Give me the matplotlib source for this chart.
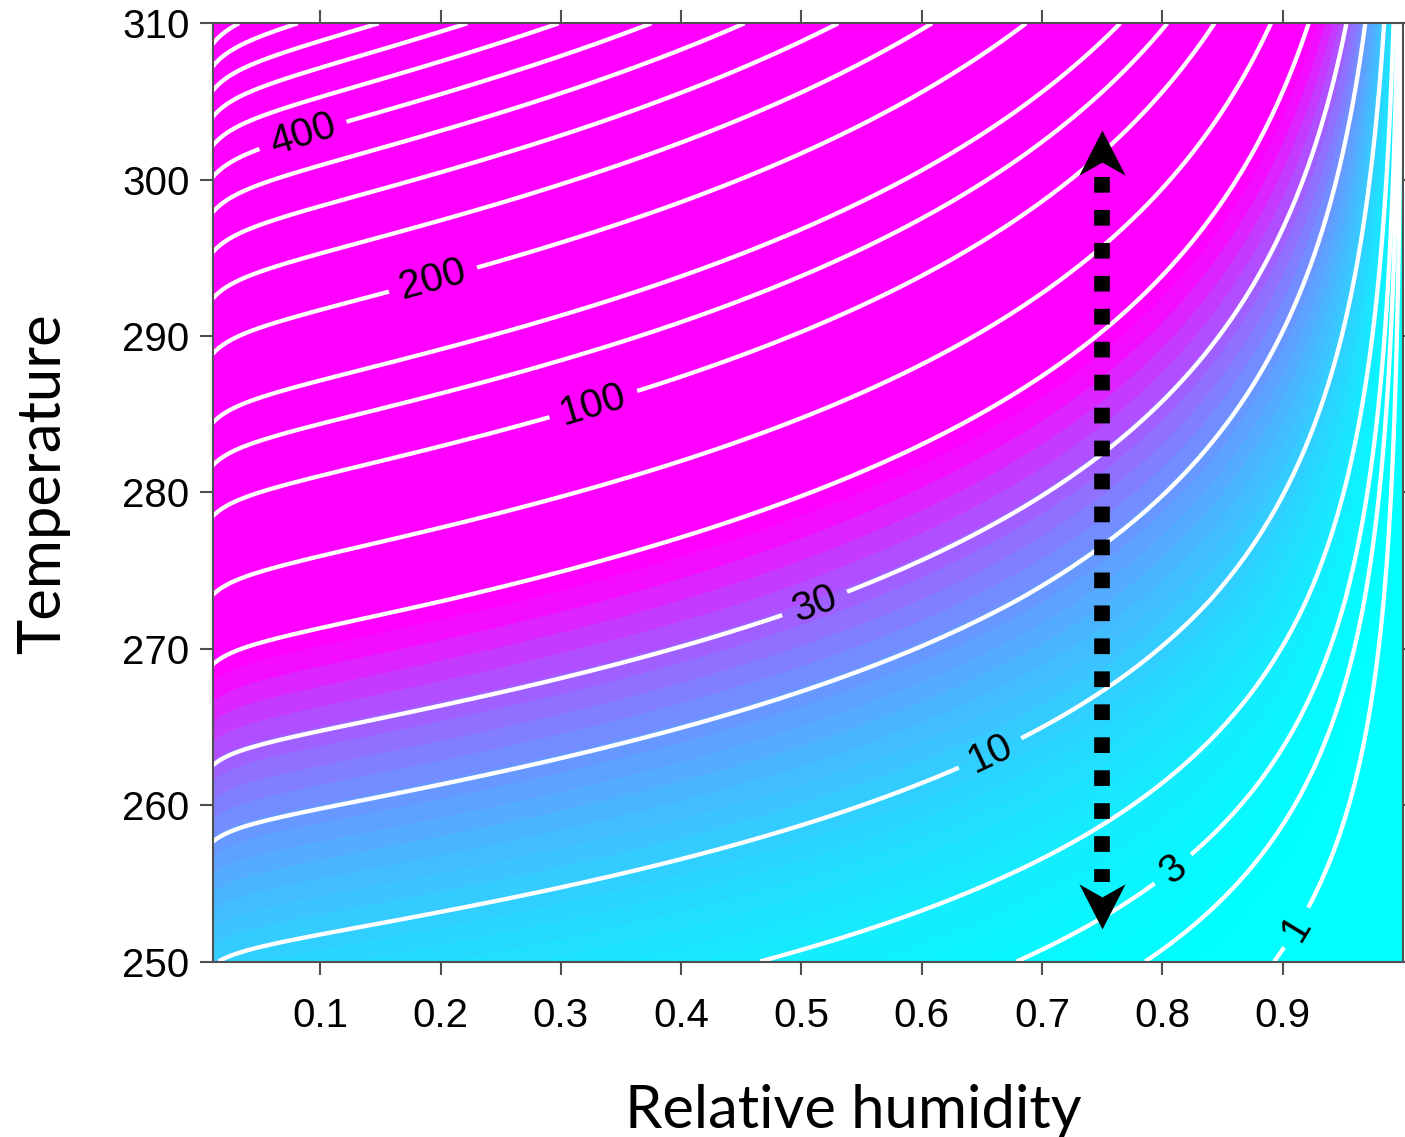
import numpy as np
import matplotlib
matplotlib.use("Agg")
import matplotlib.pyplot as plt
from matplotlib.colors import Normalize
from matplotlib.path import Path

# axis ranges and ticks
rh_range = [0.0104, 1.0]
temp_range = [250, 310]
x_ticks = [0.1, 0.2, 0.3, 0.4, 0.5, 0.6, 0.7, 0.8, 0.9]
y_ticks = [250, 260, 270, 280, 290, 300, 310]

# white contour lines and the ones that carry a label
line_levels = [1, 2, 3, 5, 10, 20, 30, 50, 70, 100, 125, 150, 200, 250, 300,
               350, 400, 450, 500, 550, 600, 650]
label_levels = [1, 3, 10, 30, 100, 200, 400]
label_rh = [0.915, 0.812, 0.66, 0.51, 0.326, 0.193, 0.085]
label_temp = [252.0, 255.6, 262.8, 273.1, 285.9, 293.8, 303.0]

# colour shading: geometric bands, coloured linearly between low and high
fill_low, fill_high, n_fill = 1.5, 46.0, 35

# dotted double arrow
arrow_rh = 0.75
arrow_top = 303.2
arrow_bottom = 252.1
head_len = 3.0  # K

# field: saturation deficit style quantity, es(T) * (1 - RH)
rh = np.linspace(rh_range[0], rh_range[1], 700)
temp = np.linspace(temp_range[0], temp_range[1], 700)
RH, T = np.meshgrid(rh, temp)
tc = T - 273.15
es_w = 6.112 * np.exp(17.67 * tc / (tc + 243.5))
es_i = 6.112 * np.exp(22.46 * tc / (tc + 272.62))
w_ice = np.where(tc < 0, 0.2, 0.0)  # partly ice below freezing
es = es_w * (es_i / es_w) ** w_ice
field = 10.2 * es * (1 - RH) * (1 + 0.0025 / (RH + 0.012))

plt.rcParams['font.family'] = ['Liberation Sans', 'DejaVu Sans']

fig = plt.figure(figsize=(14.05, 11.37), dpi=100)
ax = fig.add_axes([212.5 / 1405, 1 - 961.5 / 1137, (1403 - 212.5) / 1405, (961.5 - 23.3) / 1137])

fill_levels = np.geomspace(fill_low, fill_high, n_fill)
ax.contourf(RH, T, field, levels=fill_levels, cmap='cool',
            norm=Normalize(fill_low, fill_high), extend='both')
plain_levels = [v for v in line_levels if v not in label_levels]
ax.contour(RH, T, field, levels=plain_levels, colors='white', linewidths=3.1)
cl = ax.contour(RH, T, field, levels=label_levels, colors='white', linewidths=3.1)
ax.clabel(cl, manual=list(zip(label_rh, label_temp)),
          fmt='%d', fontsize=29, colors='black', inline=True, inline_spacing=12)

# arrow shaft (square dots) and heads
ax.plot([arrow_rh, arrow_rh], [arrow_top - head_len, arrow_bottom + head_len],
        color='black', lw=11.3, linestyle=(0, (1.0, 1.1)),
        dash_capstyle='butt', solid_capstyle='butt', zorder=5)
head_up = Path([(0, 0), (23, -45), (0, -32), (-23, -45), (0, 0)],
               [Path.MOVETO, Path.LINETO, Path.LINETO, Path.LINETO, Path.CLOSEPOLY])
head_down = Path([(0, 0), (23, 45), (0, 32), (-23, 45), (0, 0)],
                 [Path.MOVETO, Path.LINETO, Path.LINETO, Path.LINETO, Path.CLOSEPOLY])
ax.plot([arrow_rh], [arrow_top], marker=head_up, markersize=65, color='black',
        mew=0, linestyle='none', zorder=6)
ax.plot([arrow_rh], [arrow_bottom], marker=head_down, markersize=65, color='black',
        mew=0, linestyle='none', zorder=6)

ax.set_xlim(rh_range)
ax.set_ylim(temp_range)
ax.set_xticks(x_ticks)
ax.set_xticklabels([f"{v:.1f}" for v in x_ticks])
ax.set_yticks(y_ticks)
ax.tick_params(direction='out', length=9.5, width=1.5, color='#505050',
               top=True, right=True, labelsize=29)
ax.tick_params(axis='x', pad=16)
ax.tick_params(axis='y', pad=7)
for s in ax.spines.values():
    s.set_color('#505050')
    s.set_linewidth(1.5)

fig.text(853 / 1405, 1 - 1128 / 1137, 'Relative humidity', family='Lato',
         fontsize=43, ha='center', va='baseline')
fig.text(43 / 1405, 1 - 484 / 1137, 'Temperature', family='Lato',
         fontsize=43, rotation=90, ha='center', va='center')

fig.savefig('out.png', dpi=100)
